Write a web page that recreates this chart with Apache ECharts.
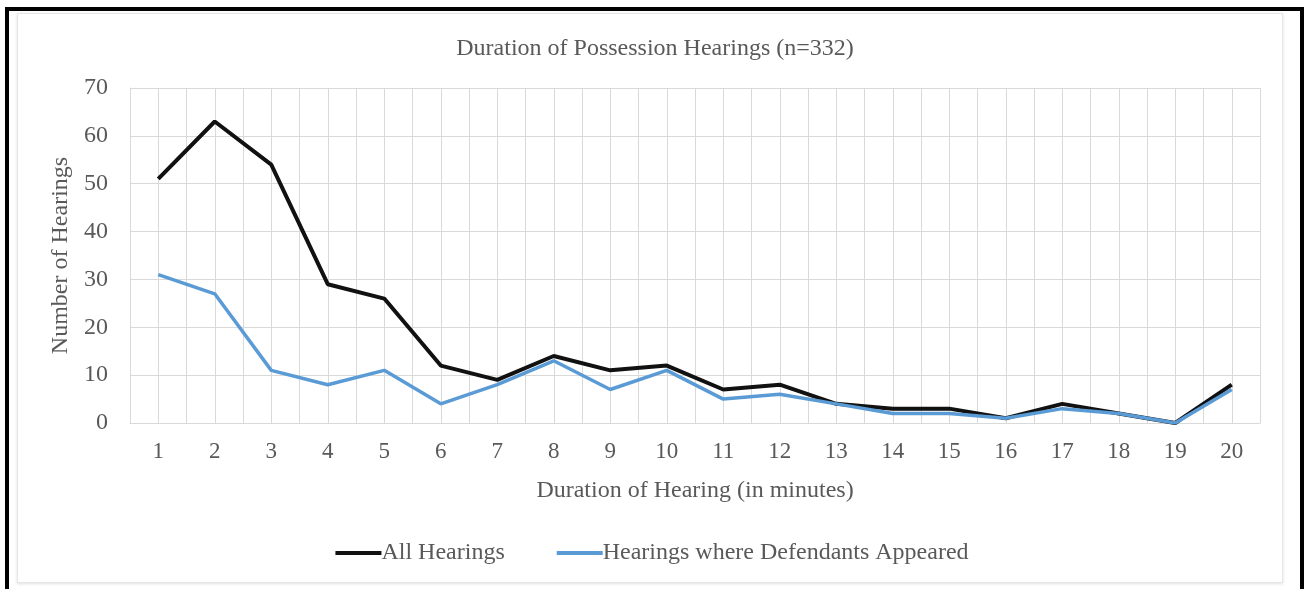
<!DOCTYPE html>
<html>
<head>
<meta charset="utf-8">
<script src="https://cdn.jsdelivr.net/npm/echarts@6/dist/echarts.min.js"></script>
<style>
  html, body { margin: 0; padding: 0; background: #fff; }
  #frame {
    position: absolute; left: 5px; top: 7px; width: 1291px; height: 590px;
    border-top: 4px solid #000; border-left: 4px solid #000; border-right: 4px solid #000;
  }
  #box {
    position: absolute; left: 17px; top: 13px; width: 1264px; height: 568px;
    border: 1px solid #e6e6e6; box-shadow: 0 1px 3px rgba(0,0,0,0.12);
  }
  #chart { position: absolute; left: 0; top: 0; width: 1304px; height: 589px; }
</style>
</head>
<body>
<div id="frame"></div>
<div id="box"></div>
<div id="chart"></div>
<script>
var minutes = [1, 2, 3, 4, 5, 6, 7, 8, 9, 10, 11, 12, 13, 14, 15, 16, 17, 18, 19, 20];
var allHearings = [51, 63, 54, 29, 26, 12, 9, 14, 11, 12, 7, 8, 4, 3, 3, 1, 4, 2, 0, 8];
var defendantsAppeared = [31, 27, 11, 8, 11, 4, 8, 13, 7, 11, 5, 6, 4, 2, 2, 1, 3, 2, 0, 7];
var yTicks = [0, 10, 20, 30, 40, 50, 60, 70];

var serif = '"Liberation Serif", "DejaVu Serif", serif';
var textColor = '#595959';
var gridColor = '#d9d9d9';

function pairs(values) {
    return minutes.map(function (m, i) { return [m, values[i]]; });
}

var option = {
    animation: false,
    title: {
        text: 'Duration of Possession Hearings (n=332)',
        left: 650,
        textAlign: 'center',
        top: 32,
        textStyle: { fontFamily: serif, fontSize: 24, fontWeight: 'normal', color: textColor }
    },
    legend: {
        left: 'center',
        top: 536,
        itemWidth: 46,
        itemHeight: 4,
        itemGap: 52,
        icon: 'rect',
        textStyle: { fontFamily: serif, fontSize: 24, color: textColor, padding: [0, 0, 0, -5] },
        data: ['All Hearings', 'Hearings where Defendants Appeared']
    },
    grid: { left: 130, right: 44, top: 88, bottom: 166 },
    xAxis: {
        type: 'value',
        min: 0.5,
        max: 20.5,
        interval: 0.5,
        name: 'Duration of Hearing (in minutes)',
        nameLocation: 'middle',
        nameGap: 56,
        nameTextStyle: { fontFamily: serif, fontSize: 24, color: textColor },
        axisLine: { show: true, lineStyle: { color: gridColor } },
        axisTick: { show: false },
        axisLabel: {
            margin: 17,
            fontFamily: serif, fontSize: 23, color: textColor,
            formatter: function (v) { return minutes.indexOf(v) >= 0 ? String(v) : ''; },
            showMinLabel: true, showMaxLabel: true
        },
        splitLine: { show: true, lineStyle: { color: gridColor, width: 1 } }
    },
    yAxis: {
        type: 'value',
        min: yTicks[0],
        max: yTicks[yTicks.length - 1],
        interval: 10,
        name: 'Number of Hearings',
        nameLocation: 'middle',
        nameGap: 57,
        nameTextStyle: { fontFamily: serif, fontSize: 24, color: textColor },
        axisLine: { show: true, lineStyle: { color: gridColor } },
        axisTick: { show: false },
        axisLabel: { margin: 22, fontFamily: serif, fontSize: 24, color: textColor },
        splitLine: { show: true, lineStyle: { color: gridColor, width: 1 } }
    },
    series: [
        {
            name: 'All Hearings',
            type: 'line',
            showSymbol: false,
            data: pairs(allHearings),
            color: '#111111',
            lineStyle: { color: '#111111', width: 4 }
        },
        {
            name: 'Hearings where Defendants Appeared',
            type: 'line',
            showSymbol: false,
            data: pairs(defendantsAppeared),
            color: '#5B9BD5',
            lineStyle: { color: '#5B9BD5', width: 3.5 }
        }
    ]
};

window.onload = function () {
    var chart = echarts.init(document.getElementById('chart'));
    chart.setOption(option);
};
</script>
</body>
</html>
